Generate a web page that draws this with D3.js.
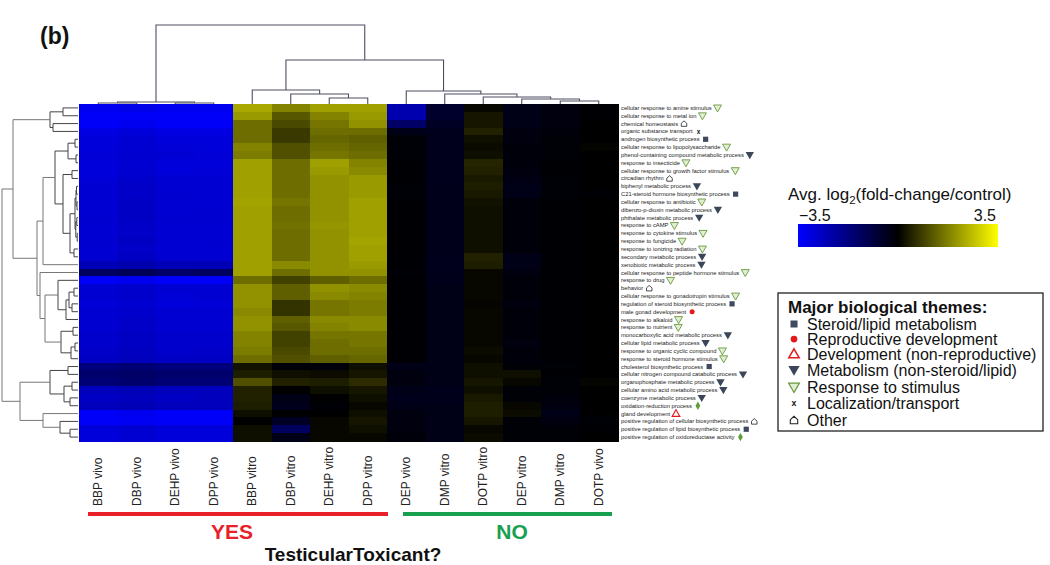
<!DOCTYPE html>
<html>
<head>
<meta charset="utf-8">
<script src="https://cdn.jsdelivr.net/npm/d3@7"></script>
<style>
body { margin: 0; background: #fff; }
text { font-family: Arial, "Liberation Sans", sans-serif; }
</style>
</head>
<body>
<div id="viz"></div>
<script>
// ---- data ----
var columns = ["BBP vivo", "DBP vivo", "DEHP vivo", "DPP vivo", "BBP vitro", "DBP vitro", "DEHP vitro", "DPP vitro",
    "DEP vivo", "DMP vitro", "DOTP vitro", "DEP vitro", "DMP vitro", "DOTP vivo"];

var rowTerms = [
    "cellular response to amine stimulus", "cellular response to metal ion", "chemical homeostasis",
    "organic substance transport", "androgen biosynthetic process", "cellular response to lipopolysaccharide",
    "phenol-containing compound metabolic process", "response to insecticide", "cellular response to growth factor stimulus",
    "circadian rhythm", "biphenyl metabolic process", "C21-steroid hormone biosynthetic process",
    "cellular response to antibiotic", "dibenzo-p-dioxin metabolic process", "phthalate metabolic process",
    "response to cAMP", "response to cytokine stimulus", "response to fungicide", "response to ionizing radiation",
    "secondary metabolic process", "xenobiotic metabolic process", "cellular response to peptide hormone stimulus",
    "response to drug", "behavior", "cellular response to gonadotropin stimulus", "regulation of steroid biosynthetic process",
    "male gonad development", "response to alkaloid", "response to nutrient", "monocarboxylic acid metabolic process",
    "cellular lipid metabolic process", "response to organic cyclic compound", "response to steroid hormone stimulus",
    "cholesterol biosynthetic process", "cellular nitrogen compound catabolic process", "organophosphate metabolic process",
    "cellular amino acid metabolic process", "coenzyme metabolic process", "oxidation-reduction process",
    "gland development", "positive regulation of cellular biosynthetic process",
    "positive regulation of lipid biosynthetic process", "positive regulation of oxidoreductase activity"
];

// S steroid/lipid, R reproductive, D development, M metabolism, T stimulus, L transport, O other, G unlisted
var rowThemes = ["T", "T", "O", "L", "S", "T", "M", "T", "T", "O", "M", "S", "T", "M", "M", "T", "T", "T", "T", "M", "M",
    "T", "T", "O", "T", "S", "R", "T", "T", "M", "M", "T", "T", "S", "M", "M", "M", "M", "G", "D", "O", "S", "G"];

var themeCodes = ["S", "R", "D", "M", "T", "L", "O"];
var themeNames = ["Steroid/lipid metabolism", "Reproductive development", "Development (non-reproductive)",
    "Metabolism (non-steroid/lipid)", "Response to stimulus", "Localization/transport", "Other"];

var logFC = [
    [-3.3, -3.2, -3.3, -3.3, 2.3, 1.8, 2.2, 2.2, -2.4, -0.6, 0.1, -0.3, -0.2, -0.05],
    [-3.4, -3.4, -3.4, -3.4, 2.1, 1.2, 1.8, 2.1, -2.4, -0.6, 0.3, -0.3, -0.2, -0.05],
    [-3.4, -3.3, -3.4, -3.4, 1.5, 1.0, 1.6, 2.0, -1.4, -0.5, 0.3, -0.3, -0.2, 0],
    [-3.1, -3.0, -3.1, -3.1, 1.5, 0.8, 1.5, 1.5, -0.3, -0.4, 0.45, -0.2, -0.15, 0],
    [-3.0, -2.9, -3.0, -3.0, 1.5, 0.8, 1.4, 1.3, -0.1, -0.4, 0.2, -0.2, -0.1, 0],
    [-3.0, -2.9, -2.95, -3.0, 1.8, 1.1, 1.5, 1.4, -0.1, -0.4, 0.15, -0.15, -0.1, 0.05],
    [-2.95, -2.85, -2.9, -2.95, 1.7, 1.1, 1.6, 1.5, -0.1, -0.4, 0.2, -0.15, -0.1, 0],
    [-3.0, -2.9, -3.0, -3.0, 2.2, 1.5, 2.2, 1.8, -0.05, -0.4, 0.5, -0.15, -0.05, 0],
    [-3.0, -2.85, -3.0, -2.95, 2.2, 1.5, 2.1, 1.9, -0.05, -0.4, 0.45, -0.2, -0.05, 0],
    [-2.95, -2.8, -2.9, -2.9, 2.2, 1.5, 2.0, 2.1, -0.05, -0.4, 0.35, -0.25, -0.1, 0],
    [-2.9, -2.75, -2.9, -2.9, 2.2, 1.5, 2.0, 2.1, -0.1, -0.35, 0.4, -0.3, -0.1, 0],
    [-2.9, -2.75, -2.85, -2.9, 2.2, 1.5, 2.0, 2.1, -0.1, -0.35, 0.35, -0.3, -0.1, -0.05],
    [-2.9, -2.7, -2.9, -2.9, 2.25, 1.6, 2.0, 2.2, -0.05, -0.35, 0.25, -0.15, -0.05, 0],
    [-2.9, -2.7, -2.9, -2.85, 2.2, 1.5, 2.0, 2.2, -0.05, -0.35, 0.2, -0.15, -0.05, 0],
    [-2.85, -2.7, -2.85, -2.85, 2.2, 1.5, 2.0, 2.2, -0.05, -0.35, 0.2, -0.15, -0.05, 0],
    [-2.9, -2.75, -2.9, -2.9, 2.2, 1.55, 2.05, 2.2, -0.05, -0.35, 0.2, -0.15, -0.05, 0],
    [-2.9, -2.75, -2.9, -2.9, 2.2, 1.5, 2.0, 2.2, -0.05, -0.35, 0.2, -0.15, -0.05, 0],
    [-2.85, -2.7, -2.9, -2.85, 2.2, 1.5, 2.0, 2.25, -0.05, -0.35, 0.2, -0.15, -0.05, 0],
    [-2.9, -2.75, -2.9, -2.9, 2.2, 1.5, 2.0, 2.2, -0.05, -0.35, 0.2, -0.15, -0.05, 0],
    [-2.85, -2.7, -2.85, -2.85, 2.2, 1.5, 2.0, 2.2, -0.05, -0.4, 0.45, -0.3, -0.05, 0],
    [-2.5, -2.4, -2.5, -2.5, 2.2, 1.9, 2.0, 2.1, -0.05, -0.4, 0.4, -0.3, -0.05, 0],
    [-1.3, -1.2, -1.4, -1.3, 2.2, 1.5, 2.0, 2.0, -0.1, -0.35, 0.1, -0.2, -0.05, 0],
    [-3.4, -3.3, -3.4, -3.4, 1.5, 0.9, 1.3, 1.5, -0.05, -0.35, 0.1, -0.15, -0.05, 0],
    [-2.9, -2.8, -2.9, -2.9, 2.0, 1.3, 2.0, 1.9, -0.05, -0.3, 0.1, -0.15, -0.05, 0],
    [-2.9, -2.8, -2.95, -2.9, 2.0, 1.3, 1.9, 1.8, -0.05, -0.3, 0.1, -0.15, -0.05, 0],
    [-2.95, -2.85, -3.0, -2.95, 2.0, 0.7, 1.6, 1.7, -0.05, -0.3, 0.05, -0.2, -0.05, 0],
    [-2.9, -2.8, -2.9, -2.9, 1.9, 0.7, 1.6, 1.7, -0.05, -0.3, 0.1, -0.15, -0.05, 0],
    [-2.9, -2.75, -2.9, -2.9, 2.0, 1.3, 1.9, 1.9, -0.05, -0.3, 0.1, -0.15, -0.05, 0],
    [-2.85, -2.75, -2.85, -2.85, 2.0, 1.2, 1.8, 1.9, -0.05, -0.3, 0.1, -0.15, -0.05, 0],
    [-2.8, -2.7, -2.8, -2.8, 1.8, 0.9, 1.6, 1.6, -0.05, -0.3, 0.1, -0.15, -0.05, 0],
    [-2.8, -2.7, -2.8, -2.8, 1.8, 0.9, 1.5, 1.6, -0.05, -0.3, 0.1, -0.2, -0.05, 0],
    [-2.75, -2.65, -2.8, -2.75, 1.7, 1.0, 1.5, 1.5, -0.05, -0.3, 0.15, -0.15, -0.05, 0],
    [-2.7, -2.6, -2.7, -2.7, 1.5, 1.1, 1.3, 1.4, -0.05, -0.3, 0.1, -0.15, -0.05, 0],
    [-1.7, -1.6, -1.7, -1.7, 0.25, -0.1, -0.15, 0.2, -0.3, -0.3, 0.2, -0.1, -0.1, 0],
    [-1.5, -1.4, -1.5, -1.5, 0.4, 0.2, 0.15, 0.3, -0.2, -0.3, 0.2, 0.2, -0.05, 0],
    [-1.6, -1.5, -1.6, -1.6, 1.1, 0.45, 0.4, 0.6, -0.2, -0.3, 0.3, 0.1, -0.1, 0.05],
    [-2.6, -2.5, -2.6, -2.6, 0.45, 0, 0.2, 0.3, -0.3, -0.35, 0.2, -0.1, -0.1, 0],
    [-2.7, -2.6, -2.7, -2.6, 0.45, -0.3, 0, 0.2, -0.35, -0.35, 0.35, -0.1, -0.15, 0],
    [-2.6, -2.5, -2.6, -2.6, 0.4, -0.4, -0.1, 0.1, -0.3, -0.3, 0.4, 0.1, -0.2, 0],
    [-3.4, -3.3, -3.4, -3.4, 0.2, 0, 0, 0.2, -0.2, -0.3, 0.4, 0.15, -0.3, 0],
    [-3.4, -3.35, -3.4, -3.4, 0, -0.5, 0.1, 0.3, -0.2, -0.3, 0.3, -0.1, -0.2, -0.1],
    [-3.0, -2.9, -3.0, -3.0, 0.2, -1.3, 0.1, 0.2, -0.2, -0.3, 0.1, -0.1, -0.1, -0.05],
    [-3.0, -2.9, -3.0, -3.0, 0.2, -0.3, 0.1, 0.1, -0.15, -0.3, 0.15, -0.1, -0.1, 0]
];

// hclust style merges: negative = leaf (1-based), positive = earlier merge step, third = height
var colMerge = [
    [-1, -2, 0.13], [-3, -4, 0.13], [1, 2, 0.25],
    [-7, -8, 0.76], [-6, 4, 1.27], [-5, 5, 1.77],
    [-13, -14, 0.38], [-12, 7, 0.63], [-11, 8, 0.89], [-10, 9, 1.27], [-9, 10, 1.65],
    [6, 11, 5.57], [3, 12, 10]
];

var rowMerge = [
    [-1, -2, 15], [-3, -4, 25], [1, 2, 28],
    [-5, -6, 3], [-7, -8, 2], [4, 5, 10],
    [-9, -10, 6], [-11, -12, 1.5], [-13, -14, 1], [-15, -16, 1.2], [-17, -18, 0.8],
    [8, 9, 2], [10, 11, 2.2], [12, 13, 3], [-19, -20, 4], [14, 15, 8], [7, 16, 15],
    [6, 17, 23], [18, -21, 35],
    [-24, -25, 4], [-26, -27, 6], [20, 21, 9], [22, -28, 12], [-23, 23, 20],
    [-29, -30, 5], [-31, -32, 3], [26, -33, 7], [25, 27, 17],
    [24, 28, 33], [-22, 29, 38], [19, 30, 41], [3, 31, 65],
    [-34, -35, 10], [-36, -37, 6], [-38, -39, 8], [34, 35, 14], [33, 36, 28],
    [-42, -43, 8], [-41, 38, 18], [-40, 39, 35], [37, 40, 58], [32, 41, 76]
];

var colorDomain = [-3.5, 0, 3.5];

// ---- setup ----
var W = 1050, H = 565;
var svg = d3.select('#viz').append('svg')
    .attr('width', W)
    .attr('height', H)
    .style('display', 'block');
svg.append('rect').attr('width', W).attr('height', H).attr('fill', '#fff');

var x = d3.scaleBand().domain(d3.range(columns.length)).range([79, 618]);
var y = d3.scaleBand().domain(d3.range(rowTerms.length)).range([104, 441]);
var color = d3.scaleLinear().domain(colorDomain).range(["#0000ff", "#000000", "#ffff00"]).clamp(true);
var colH = d3.scaleLinear().domain([0, 10]).range([104, 25]);
var rowH = d3.scaleLinear().domain([0, 76]).range([78, 2]);

// heatmap cells
var cells = [];
logFC.forEach(function(r, i) {
    r.forEach(function(v, j) { cells.push({ r: i, c: j, v: v }); });
});
svg.append('g')
    .selectAll('rect')
    .data(cells)
    .enter().append('rect')
    .attr('x', function(d) { return x(d.c); })
    .attr('y', function(d) { return y(d.r); })
    .attr('width', x.bandwidth() + 0.5)
    .attr('height', y.bandwidth() + 0.5)
    .attr('fill', function(d) { return color(d.v); })
    .attr('shape-rendering', 'crispEdges');

// dendrograms
function layoutTree(merge, leafPos) {
    var nodes = [];
    function get(id) { return id < 0 ? { pos: leafPos(-id - 1), h: 0 } : nodes[id - 1]; }
    merge.forEach(function(m) {
        var a = get(m[0]), b = get(m[1]);
        nodes.push({ pos: (a.pos + b.pos) / 2, h: m[2], a: a, b: b });
    });
    return nodes;
}

var colNodes = layoutTree(colMerge, function(i) { return x(i) + x.bandwidth() / 2; });
svg.append('g')
    .selectAll('path')
    .data(colNodes)
    .enter().append('path')
    .attr('fill', 'none')
    .attr('stroke', '#4d4f60')
    .attr('stroke-width', 1.1)
    .attr('d', function(d) {
        return 'M' + d.a.pos + ',' + colH(d.a.h) + 'V' + colH(d.h) + 'H' + d.b.pos + 'V' + colH(d.b.h);
    });

var rowNodes = layoutTree(rowMerge, function(i) { return y(i) + y.bandwidth() / 2; });
svg.append('g')
    .selectAll('path')
    .data(rowNodes)
    .enter().append('path')
    .attr('fill', 'none')
    .attr('stroke', function(d) { return d.h > 30 ? '#777' : '#444'; })
    .attr('stroke-width', 1)
    .attr('d', function(d) {
        return 'M' + rowH(d.a.h) + ',' + d.a.pos + 'H' + rowH(d.h) + 'V' + d.b.pos + 'H' + rowH(d.b.h);
    });

// symbols
var house = {
    draw: function(ctx, size) {
        var s = Math.sqrt(size) / 2;
        ctx.moveTo(-s, s);
        ctx.lineTo(-s, -s * 0.1);
        ctx.lineTo(0, -s);
        ctx.lineTo(s, -s * 0.1);
        ctx.lineTo(s, s);
        ctx.closePath();
    }
};

function drawSymbol(g, code, cx, cy, k) {
    var sym = d3.symbol();
    if (code == "S") {
        g.append('rect').attr('x', cx - 2.6 * k).attr('y', cy - 2.6 * k)
            .attr('width', 5.2 * k).attr('height', 5.2 * k).attr('fill', '#3f4a5f');
    } else if (code == "R") {
        g.append('circle').attr('cx', cx).attr('cy', cy).attr('r', 2.5 * k).attr('fill', '#e31a1c');
    } else if (code == "D") {
        g.append('path').attr('d', sym.type(d3.symbolTriangle).size(26 * k * k)())
            .attr('transform', 'translate(' + cx + ',' + (cy + 0.6 * k) + ')')
            .attr('fill', '#fff').attr('stroke', '#e31a1c').attr('stroke-width', 1.1 * k);
    } else if (code == "M") {
        g.append('path').attr('d', sym.type(d3.symbolTriangle).size(30 * k * k)())
            .attr('transform', 'translate(' + cx + ',' + (cy - 0.6 * k) + ') rotate(180)')
            .attr('fill', '#3c4659');
    } else if (code == "T") {
        g.append('path').attr('d', sym.type(d3.symbolTriangle).size(28 * k * k)())
            .attr('transform', 'translate(' + cx + ',' + (cy - 0.6 * k) + ') rotate(180)')
            .attr('fill', '#e2eed4').attr('stroke', '#6b9a3c').attr('stroke-width', 0.9 * k);
    } else if (code == "L") {
        g.append('text').attr('x', cx).attr('y', cy).attr('text-anchor', 'middle')
            .attr('dominant-baseline', 'central').attr('font-weight', 'bold')
            .attr('font-size', (6.5 * k) + 'px').attr('fill', '#111').text('x');
    } else if (code == "O") {
        g.append('path').attr('d', sym.type(house).size(30 * k * k)())
            .attr('transform', 'translate(' + cx + ',' + cy + ')')
            .attr('fill', '#fff').attr('stroke', '#222').attr('stroke-width', 0.8 * k);
    } else if (code == "G") {
        g.append('path').attr('d', sym.type(d3.symbolDiamond).size(20 * k * k)())
            .attr('transform', 'translate(' + cx + ',' + cy + ')')
            .attr('fill', '#5e9e3a');
    }
}

// row labels
var rl = svg.append('g').attr('id', 'row-labels');
rowTerms.forEach(function(t, i) {
    var cy = y(i) + y.bandwidth() / 2;
    var txt = rl.append('text')
        .attr('x', 621)
        .attr('y', cy)
        .attr('dominant-baseline', 'central')
        .attr('font-size', '5.8px')
        .attr('fill', '#222')
        .text(t);
    var w = txt.node().getComputedTextLength();
    drawSymbol(rl, rowThemes[i], 621 + w + 6, cy, 1);
});

// column labels
svg.append('g')
    .selectAll('text')
    .data(columns)
    .enter().append('text')
    .attr('transform', function(d, i) {
        return 'translate(' + (x(i) + x.bandwidth() / 2) + ',506) rotate(-90)';
    })
    .attr('dominant-baseline', 'central')
    .attr('font-size', '12px')
    .attr('fill', '#222')
    .text(function(d) { return d; });

// group bars
svg.append('line').attr('x1', 88).attr('x2', 388).attr('y1', 514).attr('y2', 514)
    .attr('stroke', '#e8202a').attr('stroke-width', 4);
svg.append('line').attr('x1', 403).attr('x2', 612).attr('y1', 514).attr('y2', 514)
    .attr('stroke', '#18a050').attr('stroke-width', 4);
svg.append('text').attr('x', 232).attr('y', 539).attr('text-anchor', 'middle')
    .attr('font-size', '21px').attr('font-weight', 'bold').attr('fill', '#e8202a').text('YES');
svg.append('text').attr('x', 512).attr('y', 539).attr('text-anchor', 'middle')
    .attr('font-size', '21px').attr('font-weight', 'bold').attr('fill', '#18a050').text('NO');
svg.append('text').attr('x', 353).attr('y', 561).attr('text-anchor', 'middle')
    .attr('font-size', '19px').attr('font-weight', 'bold').attr('fill', '#111').text('TesticularToxicant?');

// panel tag
svg.append('text').attr('x', 40).attr('y', 44)
    .attr('font-size', '23px').attr('font-weight', 'bold').attr('fill', '#111').text('(b)');

// colour key
var key = svg.append('g');
var grad = svg.append('defs').append('linearGradient').attr('id', 'keygrad');
d3.range(0, 1.0001, 0.1).forEach(function(t) {
    grad.append('stop').attr('offset', (t * 100) + '%')
        .attr('stop-color', color(colorDomain[0] + t * (colorDomain[2] - colorDomain[0])));
});
var keyX = d3.scaleLinear().domain([colorDomain[0], colorDomain[2]]).range([798, 998]);
key.append('rect').attr('x', keyX(colorDomain[0])).attr('y', 224)
    .attr('width', keyX(colorDomain[2]) - keyX(colorDomain[0])).attr('height', 23)
    .attr('fill', 'url(#keygrad)');
var kt = key.append('text').attr('x', 788).attr('y', 200).attr('font-size', '17px').attr('fill', '#111');
kt.append('tspan').text('Avg. log');
kt.append('tspan').attr('font-size', '11.5px').attr('dy', 4).text('2');
kt.append('tspan').attr('dy', -4).text('(fold-change/control)');
key.append('text').attr('x', keyX(colorDomain[0]) + 1).attr('y', 221).attr('font-size', '16px')
    .attr('fill', '#111').text('\u22123.5');
key.append('text').attr('x', keyX(colorDomain[2]) - 2).attr('y', 221).attr('text-anchor', 'end')
    .attr('font-size', '16px').attr('fill', '#111').text('3.5');

// theme legend
var lg = svg.append('g');
lg.append('rect').attr('x', 778).attr('y', 293).attr('width', 265).attr('height', 138)
    .attr('fill', '#fff').attr('stroke', '#222').attr('stroke-width', 1.3);
lg.append('text').attr('x', 788).attr('y', 313).attr('font-size', '17px').attr('font-weight', 'bold')
    .attr('fill', '#111').text('Major biological themes:');
var legY = [324, 339, 354, 370, 387, 403, 420];
themeCodes.forEach(function(c, i) {
    drawSymbol(lg, c, 794, legY[i], 1.35);
    lg.append('text').attr('x', 807).attr('y', legY[i]).attr('dominant-baseline', 'central')
        .attr('font-size', '16px').attr('fill', '#111').text(themeNames[i]);
});
</script>
</body>
</html>
